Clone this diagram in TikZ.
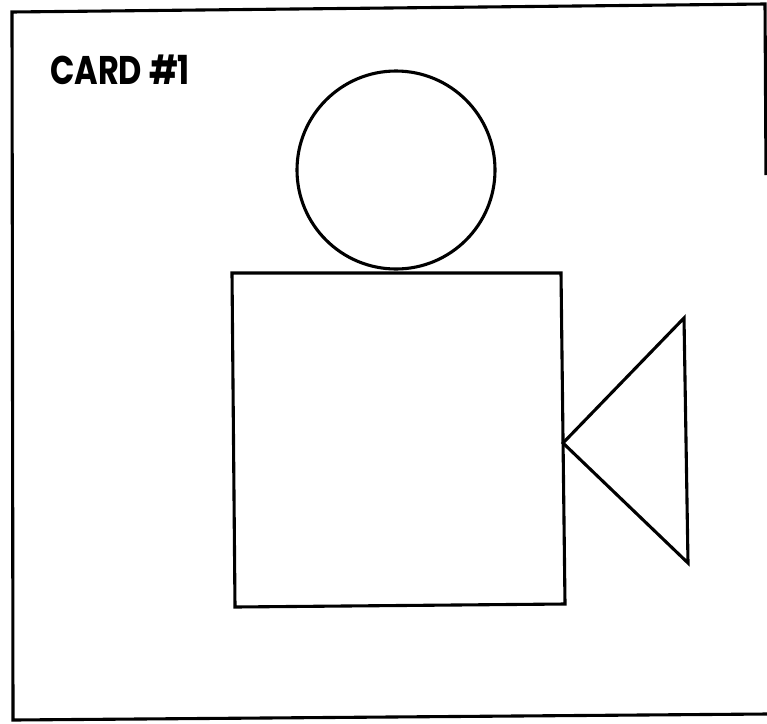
\documentclass[tikz,border=0pt]{standalone}
\usepackage{fontspec}
\newfontfamily\cardfont{Poppins}[UprightFont=* Bold]
\begin{document}
\begin{tikzpicture}[x=1pt,y=-1pt,
  ink/.style={draw=black,line width=3.1pt,line join=miter},
  titletext/.style={anchor=base west,inner sep=0pt,xscale=0.8,font=\cardfont\fontsize{40}{40}\selectfont}]
\useasboundingbox (0,0) rectangle (767,723);
% frame
\coordinate (ftl) at (12,12);
\coordinate (ftr) at (765,4);
\coordinate (fbl) at (13,720);
\coordinate (fbr) at (767,714);
\coordinate (fre) at (766,175);
\draw[ink] (fre) -- (ftr) -- (ftl) -- (fbl) -- (fbr);
% title
\node[titletext] (title) at (50,84) {CARD \#1};
% head
\node[ink,circle,minimum size=198pt,inner sep=0pt] (head) at (396,170) {};
% body
\coordinate (b1) at (232,273);
\coordinate (b2) at (561,273);
\coordinate (b3) at (565,604);
\coordinate (b4) at (235,607);
\draw[ink] (b1) -- (b2) -- (b3) -- (b4) -- cycle;
% lens
\coordinate (t1) at (563,443);
\coordinate (t2) at (684,318);
\coordinate (t3) at (688,563);
\draw[ink] (t1) -- (t2) -- (t3) -- cycle;
\end{tikzpicture}
\end{document}
